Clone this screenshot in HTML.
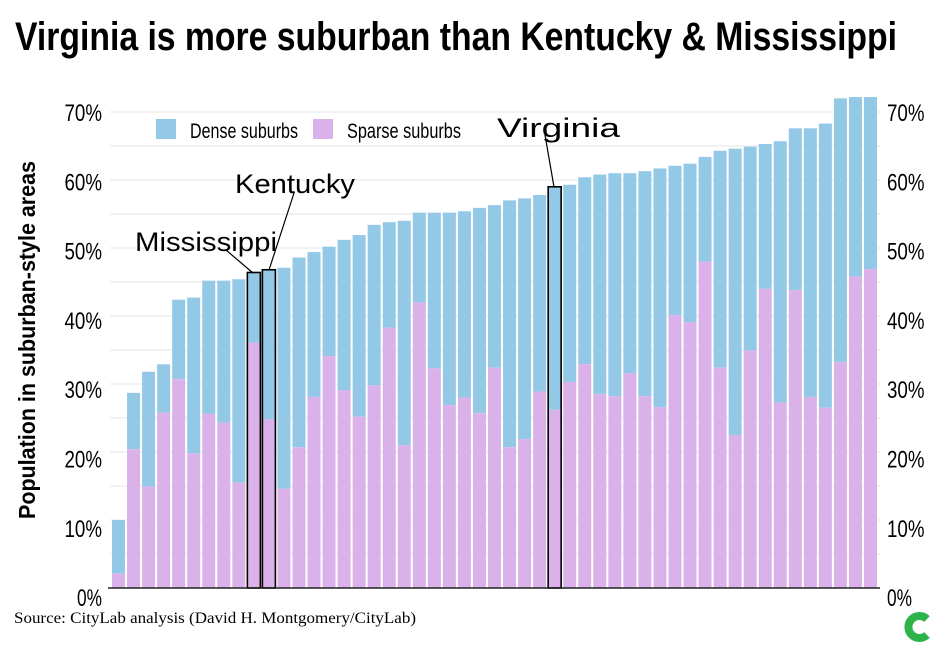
<!DOCTYPE html>
<html><head><meta charset="utf-8"><style>
html,body{margin:0;padding:0;background:#fff;}
svg{display:block;}
</style></head><body>
<svg id="chart" width="940" height="648" xmlns="http://www.w3.org/2000/svg">
<text x="15" y="50" font-family="Liberation Sans, sans-serif" font-weight="bold" font-size="40" textLength="882" lengthAdjust="spacingAndGlyphs">Virginia is more suburban than Kentucky &amp; Mississippi</text>
<g id="grid"></g>
<g id="bars"></g>
<g id="axes"></g>
<g>
<rect x="156" y="119" width="20" height="20" fill="#93c9e7"/>
<text x="190" y="138" font-family="Liberation Sans, sans-serif" font-size="21" textLength="108" lengthAdjust="spacingAndGlyphs">Dense suburbs</text>
<rect x="313" y="119" width="20" height="20" fill="#dbb1ea"/>
<text x="347" y="138" font-family="Liberation Sans, sans-serif" font-size="21" textLength="114" lengthAdjust="spacingAndGlyphs">Sparse suburbs</text>
</g>
<text transform="translate(35,340) rotate(-90)" text-anchor="middle" font-family="Liberation Sans, sans-serif" font-weight="bold" font-size="23" textLength="358" lengthAdjust="spacingAndGlyphs">Population in suburban-style areas</text>
<g>
<text x="135" y="251" font-family="Liberation Sans, sans-serif" font-size="27" textLength="142" lengthAdjust="spacingAndGlyphs">Mississippi</text>
<line x1="226" y1="250" x2="253" y2="273" stroke="#000" stroke-width="1.2"/>
<text x="235" y="193" font-family="Liberation Sans, sans-serif" font-size="27" textLength="120" lengthAdjust="spacingAndGlyphs">Kentucky</text>
<line x1="294" y1="193" x2="269" y2="270" stroke="#000" stroke-width="1.2"/>
<text x="497" y="137" font-family="Liberation Sans, sans-serif" font-size="27" textLength="123" lengthAdjust="spacingAndGlyphs">Virginia</text>
<line x1="545" y1="135" x2="554" y2="187" stroke="#000" stroke-width="1.2"/>
</g>
<text x="14" y="623" font-family="Liberation Serif, serif" font-size="15.5" textLength="402" lengthAdjust="spacingAndGlyphs">Source: CityLab analysis (David H. Montgomery/CityLab)</text>
<path d="M 927 619 A 11 11 0 1 0 927 635" fill="none" stroke="#2db34a" stroke-width="8"/>
</svg>
<script>
const totals = [10.0,28.7,31.8,32.9,42.4,42.7,45.2,45.2,45.4,46.4,46.8,47.1,48.6,49.4,50.2,51.2,51.9,53.4,53.8,54.0,55.2,55.2,55.2,55.4,55.9,56.3,57.0,57.3,57.8,59.0,59.3,60.4,60.8,61.0,61.0,61.3,61.7,62.1,62.4,63.4,64.3,64.6,64.9,65.3,65.7,67.6,67.6,68.3,72.0,72.2,72.2];
const sparse = [2.1,20.4,14.9,25.8,30.7,19.8,25.6,24.3,15.5,36.1,24.8,14.6,20.7,28.1,34.1,29.1,25.2,29.8,38.3,21.0,42.0,32.3,26.9,28.0,25.7,32.4,20.7,21.9,28.9,26.2,30.3,32.9,28.5,28.2,31.6,28.2,26.6,40.1,39.1,48.0,32.4,22.5,34.9,44.0,27.3,43.8,28.1,26.5,33.2,45.8,46.9];
const highlighted = [9,10,29];
const tickValues = [0,10,20,30,40,50,60,70];
const tickLabels = ["0%","10%","20%","30%","40%","50%","60%","70%"];
const gridValues = [5,10,15,20,25,30,35,40,45,50,55,60,65,70];

const NS = "http://www.w3.org/2000/svg";
const y = v => 588 - v * 6.8;
const x = i => 112 + i * 15.04;
const labelY = v => 112 + (70 - v) * 6.93 + 9;
function mk(tag, attrs, parent){ const e=document.createElementNS(NS,tag); for(const k in attrs) e.setAttribute(k,attrs[k]); parent.appendChild(e); return e; }
const grid=document.getElementById('grid'), bars=document.getElementById('bars'), axes=document.getElementById('axes');
gridValues.forEach(v=>{
  const l=mk('line',{x1:110,x2:880,y1:y(v),y2:y(v),stroke:'#e6e6e6','stroke-width':1},grid);
  
  
});
totals.forEach((t,i)=>{
  const s=sparse[i];
  const d=mk('rect',{x:x(i),y:y(t),width:13,height:y(s)-y(t),fill:'#93c9e7'},bars);
  
  
  const p=mk('rect',{x:x(i),y:y(s),width:13,height:588-y(s),fill:'#dbb1ea'},bars);
  
  
});
highlighted.forEach(i=>{
  const o=mk('rect',{x:x(i),y:y(totals[i]),width:13,height:588-y(totals[i]),fill:'none',stroke:'#000','stroke-width':1.6},bars);
  
  
});
const base=mk('line',{x1:108,x2:880,y1:588,y2:588,stroke:'#222','stroke-width':1.5},axes);


tickValues.forEach((v,k)=>{
  const a=mk('text',{x:102,y:labelY(v),'text-anchor':'end','font-family':'Liberation Sans, sans-serif','font-size':24,textLength:tickLabels[k].length*12.5,lengthAdjust:'spacingAndGlyphs'},axes);
  a.textContent=tickLabels[k];
  
  
  const b=mk('text',{x:887,y:labelY(v),'font-family':'Liberation Sans, sans-serif','font-size':24,textLength:tickLabels[k].length*12.5,lengthAdjust:'spacingAndGlyphs'},axes);
  b.textContent=tickLabels[k];
  
  
});
</script>
</body></html>
